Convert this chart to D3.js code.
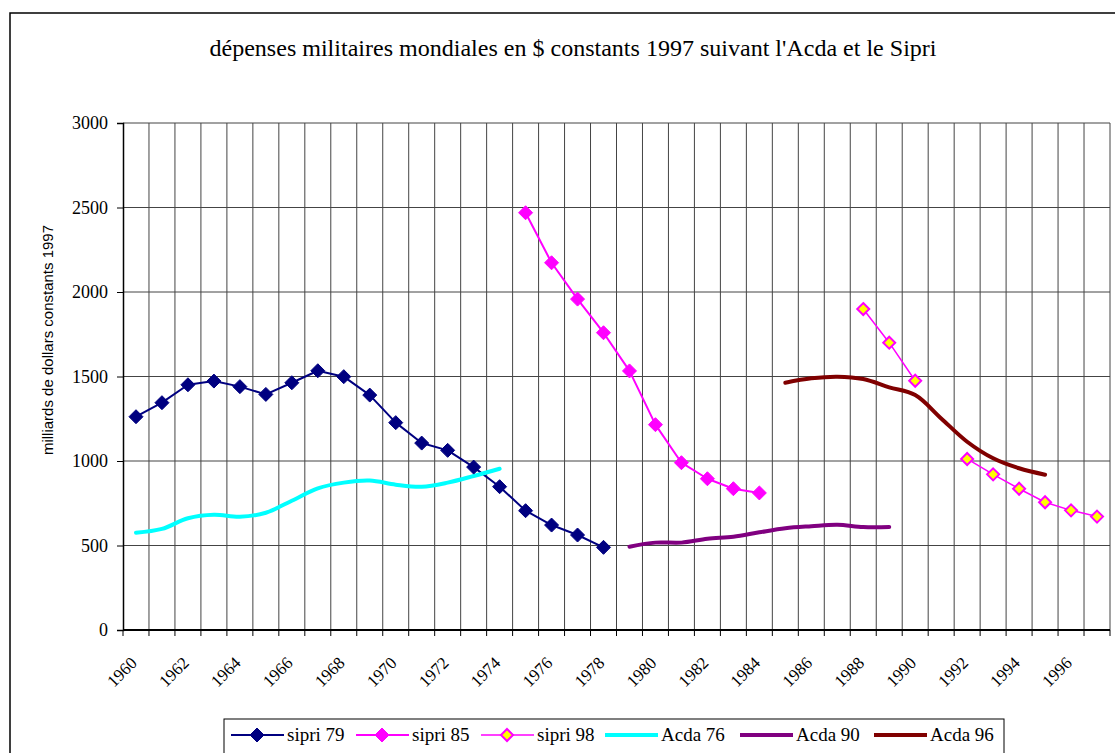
<!DOCTYPE html>
<html>
<head>
<meta charset="utf-8">
<script src="https://cdn.jsdelivr.net/npm/d3@7"></script>
<style>
  body { margin: 0; background: #fff; }
  svg { display: block; }
  text { font-family: 'Liberation Serif', 'Times New Roman', serif; }
</style>
</head>
<body>
<svg id="chart" width="1115" height="753"></svg>
<script>
// categories: one per year
const years = [1960,1961,1962,1963,1964,1965,1966,1967,1968,1969,
               1970,1971,1972,1973,1974,1975,1976,1977,1978,1979,
               1980,1981,1982,1983,1984,1985,1986,1987,1988,1989,
               1990,1991,1992,1993,1994,1995,1996,1997];
const yTicks = [0, 500, 1000, 1500, 2000, 2500, 3000];

// series values (milliards $ 1997), each with its first year
const sipri79Start = 1960;
const sipri79 = [1262,1345,1451,1473,1440,1394,1463,1534,1499,1390,1227,1106,1063,964,848,706,621,562,489];
const sipri85Start = 1975;
const sipri85 = [2469,2173,1958,1759,1533,1215,990,895,836,811];
const sipri98Start = 1988;
const sipri98 = [1899,1700,1475,null,1012,921,836,756,708,671];
const acda76Start = 1960;
const acda76 = [576,598,661,682,670,694,765,838,872,884,860,848,872,911,954];
const acda90Start = 1979;
const acda90 = [493,517,517,540,552,578,602,614,623,609,609];
const acda96Start = 1985;
const acda96 = [1463,1489,1499,1485,1436,1390,1252,1114,1016,957,919];

const toPoints = (start, vals) => vals.map((v, i) => ({ year: start + i, value: v }));

const series = [
  { name: "sipri 79", pts: toPoints(sipri79Start, sipri79), color: "#000080", width: 2, marker: "#000080", mstroke: "#000080", msize: 7, smooth: false },
  { name: "sipri 85", pts: toPoints(sipri85Start, sipri85), color: "#FF00FF", width: 2, marker: "#FF00FF", mstroke: "#FF00FF", msize: 7, smooth: false },
  { name: "sipri 98", pts: toPoints(sipri98Start, sipri98), color: "#FF00FF", width: 1.5, marker: "#FFFF00", mstroke: "#FF00FF", msize: 6, smooth: false },
  { name: "Acda 76",  pts: toPoints(acda76Start, acda76),  color: "#00FFFF", width: 4, marker: null, smooth: true },
  { name: "Acda 90",  pts: toPoints(acda90Start, acda90),  color: "#800080", width: 4, marker: null, smooth: true },
  { name: "Acda 96",  pts: toPoints(acda96Start, acda96),  color: "#800000", width: 4, marker: null, smooth: true }
];

const SERIF = "'Liberation Serif', 'Times New Roman', serif";
const svg = d3.select("#chart");

// outer chart border
svg.append("path")
  .attr("d", "M10,753 V13 H1115")
  .attr("fill", "none")
  .attr("stroke", "#000")
  .attr("stroke-width", 1.5);

const plot = { left: 123, right: 1110, top: 123, bottom: 630 };

const x = d3.scaleBand().domain(years).range([plot.left, plot.right]);
const y = d3.scaleLinear().domain([0, 3000]).range([plot.bottom, plot.top]);
const cx = yr => x(yr) + x.bandwidth() / 2;

// gridlines
const grid = svg.append("g");
grid.selectAll("line.v")
  .data(years.slice(1).concat(["end"]))
  .join("line")
    .attr("x1", d => d === "end" ? plot.right : x(d))
    .attr("x2", d => d === "end" ? plot.right : x(d))
    .attr("y1", plot.top)
    .attr("y2", plot.bottom)
    .attr("stroke", "#444")
    .attr("stroke-width", 1);
grid.selectAll("line.h")
  .data(yTicks.slice(1))
  .join("line")
    .attr("x1", plot.left)
    .attr("x2", plot.right)
    .attr("y1", d => y(d))
    .attr("y2", d => y(d))
    .attr("stroke", "#444")
    .attr("stroke-width", 1);

// y axis
const yAxis = svg.append("g")
  .attr("transform", `translate(${plot.left},0)`)
  .call(d3.axisLeft(y).tickValues(yTicks).tickSize(6).tickPadding(9).tickFormat(d3.format("d")));
yAxis.attr("font-family", SERIF);
yAxis.select(".domain").attr("stroke", "#000").attr("stroke-width", 1.5);
yAxis.selectAll(".tick line").attr("stroke", "#000");
yAxis.selectAll(".tick text")
  .style("font-family", SERIF)
  .style("font-size", "18px")
  .attr("fill", "#000");

// x axis: ticks at band boundaries
const xAxis = svg.append("g").attr("transform", `translate(0,${plot.bottom})`);
xAxis.append("line")
  .attr("x1", plot.left).attr("x2", plot.right)
  .attr("stroke", "#000").attr("stroke-width", 2);
xAxis.selectAll("line.tk")
  .data(years.concat(["end"]))
  .join("line")
    .attr("class", "tk")
    .attr("x1", d => d === "end" ? plot.right : x(d))
    .attr("x2", d => d === "end" ? plot.right : x(d))
    .attr("y1", 0).attr("y2", 6)
    .attr("stroke", "#000");
xAxis.selectAll("text")
  .data(years.filter(d => d % 2 === 0))
  .join("text")
    .attr("transform", d => `translate(${cx(d) + 2},${34}) rotate(-45)`)
    .attr("text-anchor", "end")
    .style("font-family", SERIF)
    .style("font-size", "17px")
    .text(d => d);

// y axis label
svg.append("text")
  .attr("transform", "translate(53,340) rotate(-90)")
  .attr("text-anchor", "middle")
  .style("font-family", "'Liberation Sans', Arial, sans-serif")
  .style("font-size", "15px")
  .text("milliards de dollars constants 1997");

// title
svg.append("text")
  .attr("x", 573).attr("y", 56)
  .attr("text-anchor", "middle")
  .style("font-family", SERIF)
  .style("font-size", "23px")
  .attr("textLength", 727)
  .attr("lengthAdjust", "spacingAndGlyphs")
  .text("dépenses militaires mondiales en $ constants 1997 suivant l'Acda et le Sipri");

// series lines
series.forEach(s => {
  const line = d3.line()
    .defined(d => d.value != null)
    .x(d => cx(d.year))
    .y(d => y(d.value))
    .curve(s.smooth ? d3.curveCatmullRom.alpha(0.5) : d3.curveLinear);
  svg.append("path")
    .datum(s.pts)
    .attr("d", line)
    .attr("fill", "none")
    .attr("stroke", s.color)
    .attr("stroke-width", s.width)
    .attr("stroke-linejoin", "round")
    .attr("stroke-linecap", "round");
});

// diamond markers
const diamond = r => `M0,${-r}L${r},0L0,${r}L${-r},0Z`;
series.filter(s => s.marker).forEach(s => {
  svg.append("g")
    .selectAll("path")
    .data(s.pts.filter(d => d.value != null))
    .join("path")
      .attr("transform", d => `translate(${cx(d.year)},${y(d.value)})`)
      .attr("d", diamond(s.msize))
      .attr("fill", s.marker)
      .attr("stroke", s.mstroke)
      .attr("stroke-width", s.marker === s.mstroke ? 1 : 2);
});

// legend
const legendBox = { x: 224, y: 719, w: 780, h: 36 };
svg.append("rect")
  .attr("x", legendBox.x).attr("y", legendBox.y)
  .attr("width", legendBox.w).attr("height", legendBox.h)
  .attr("fill", "#fff").attr("stroke", "#000").attr("stroke-width", 1);

const legendX = [231, 356, 481, 605, 740, 874];
const ly = 735;
const items = svg.append("g").selectAll("g")
  .data(series)
  .join("g")
    .attr("transform", (d, i) => `translate(${legendX[i]},${ly})`);
items.append("line")
  .attr("x1", 0).attr("x2", 53)
  .attr("stroke", d => d.color)
  .attr("stroke-width", d => d.width);
items.filter(d => d.marker).append("path")
  .attr("transform", "translate(26,0)")
  .attr("d", d => diamond(d.msize))
  .attr("fill", d => d.marker)
  .attr("stroke", d => d.mstroke)
  .attr("stroke-width", d => d.marker === d.mstroke ? 1 : 2);
items.append("text")
  .attr("x", 56).attr("y", 6)
  .style("font-family", SERIF)
  .style("font-size", "19px")
  .text(d => d.name);
</script>
</body>
</html>
